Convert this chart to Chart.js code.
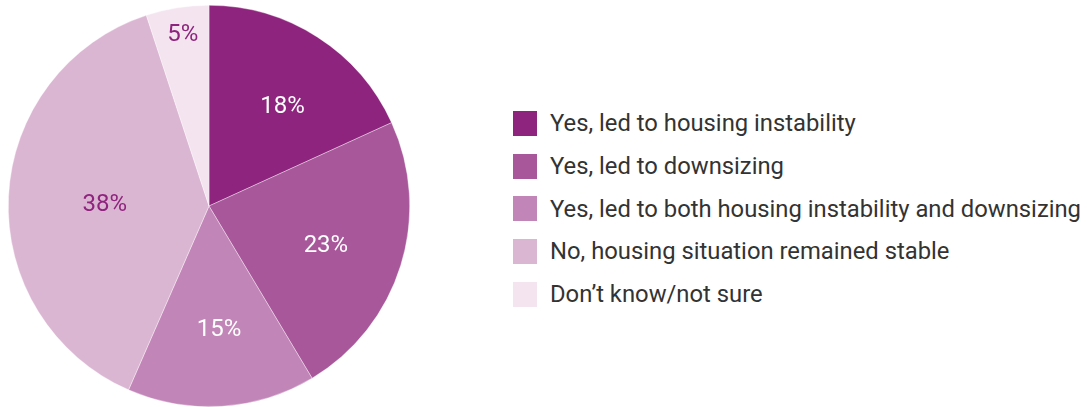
<!DOCTYPE html>
<html>
<head>
<meta charset="utf-8">
<script src="https://cdn.jsdelivr.net/npm/chart.js@4/dist/chart.umd.min.js"></script>
<style>
  html, body { margin: 0; padding: 0; background: #ffffff; }
  #wrap { position: relative; width: 1087px; height: 407px; }
  #pieBox { position: absolute; left: 0; top: 0; width: 418px; height: 407px; }
  #legend { position: absolute; left: 513px; top: 111px; margin: 0; padding: 0; list-style: none;
            font-family: Roboto, "Noto Sans", sans-serif; font-size: 23.8px; color: #333333; }
  #legend li { display: flex; align-items: center; height: 42.7px; white-space: nowrap; }
  #legend li span.box { display: inline-block; width: 24px; height: 25px; margin-right: 13px; flex: none; }
  #legend li:first-child { margin-top: -9px; }
</style>
</head>
<body>
<div id="wrap">
  <div id="pieBox"><canvas id="pie"></canvas></div>
  <ul id="legend"></ul>
</div>
<script>
// Survey responses: did the situation affect housing?
const categories = [
  "Yes, led to housing instability",
  "Yes, led to downsizing",
  "Yes, led to both housing instability and downsizing",
  "No, housing situation remained stable",
  "Don\u2019t know/not sure"
];
const shares = [18, 23, 15, 38, 5];
const sliceColors = ["#8e247d", "#a8579b", "#c285b8", "#dbb6d3", "#f4e4f0"];
const labelColors = ["#ffffff", "#ffffff", "#ffffff", "#8e247d", "#8e247d"];
// how far out (fraction of the radius) each percentage label sits
const labelRadius = [0.63, 0.61, 0.60, 0.52, 0.88];
// small angular nudges (radians) off the slice bisector
const labelTurn = [0.05, 0, -0.02, 0, 0.01];

const sliceLabels = {
  id: "sliceLabels",
  afterDatasetsDraw(chart) {
    const ctx = chart.ctx;
    const meta = chart.getDatasetMeta(0);
    ctx.save();
    ctx.font = "24px Roboto, 'Noto Sans', sans-serif";
    ctx.textAlign = "center";
    ctx.textBaseline = "middle";
    meta.data.forEach((arc, i) => {
      const p = arc.getProps(["x", "y", "startAngle", "endAngle", "outerRadius"], true);
      const mid = (p.startAngle + p.endAngle) / 2 + labelTurn[i];
      const r = p.outerRadius * labelRadius[i];
      ctx.fillStyle = labelColors[i];
      ctx.fillText(shares[i] + "%", p.x + Math.cos(mid) * r, p.y + Math.sin(mid) * r + 4);
    });
    ctx.restore();
  }
};

const chart = new Chart(document.getElementById("pie"), {
  type: "pie",
  data: {
    labels: categories,
    datasets: [{
      data: shares,
      backgroundColor: sliceColors,
      borderColor: "rgba(255,255,255,0.6)",
      borderWidth: 0.6
    }]
  },
  options: {
    responsive: true,
    maintainAspectRatio: false,
    animation: false,
    layout: { padding: { top: 5, bottom: 0, left: 0, right: 0 } },
    plugins: {
      legend: { display: false },
      tooltip: { enabled: false }
    }
  },
  plugins: [sliceLabels]
});

// legend built from the chart's own label items
const ul = document.getElementById("legend");
chart.options.plugins.legend.labels.generateLabels(chart).forEach(item => {
  const li = document.createElement("li");
  const box = document.createElement("span");
  box.className = "box";
  box.style.background = item.fillStyle;
  li.appendChild(box);
  li.appendChild(document.createTextNode(item.text));
  ul.appendChild(li);
});
</script>
</body>
</html>
